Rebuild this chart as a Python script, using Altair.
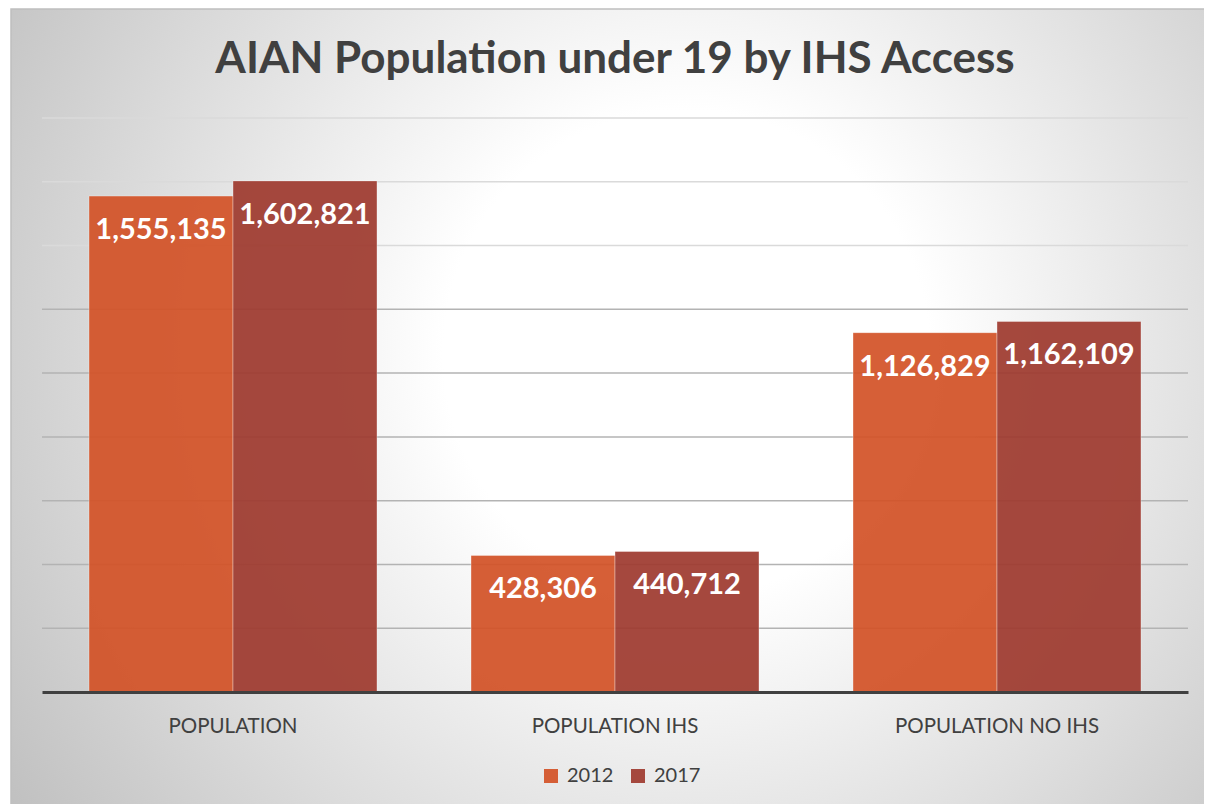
import altair as alt
import pandas as pd

categories = ["POPULATION", "POPULATION IHS", "POPULATION NO IHS"]
years = ["2012", "2017"]
values_2012 = [1555135, 428306, 1126829]
values_2017 = [1602821, 440712, 1162109]
grid_values = [200000, 400000, 600000, 800000, 1000000, 1200000, 1400000, 1600000, 1800000]
title_text = "AIAN Population under 19 by IHS Access"
colors = ["#D35328", "#9F3B30"]

rows = []
for c, a, b in zip(categories, values_2012, values_2017):
    rows.append({"category": c, "year": years[0], "value": a})
    rows.append({"category": c, "year": years[1], "value": b})
df = pd.DataFrame(rows)
grid_df = pd.DataFrame({"g": grid_values})

W, H = 1146, 574
FONT = "Lato"
y_scale = alt.Scale(domain=[0, 1800000], nice=False)

gradient = {
    "gradient": "radial",
    "x1": 0.56, "y1": 0.45, "r1": 0,
    "x2": 0.56, "y2": 0.45, "r2": 0.72,
    "stops": [
        {"offset": 0, "color": "#ffffff"},
        {"offset": 0.28, "color": "#ffffff"},
        {"offset": 1, "color": "#bababa"},
    ],
}

bg = alt.Chart(alt.Data(values=[{}])).mark_rect(
    fill=gradient, stroke="#bfbfbf", strokeWidth=1.5
).encode(
    x=alt.value(-31), x2=alt.value(1175),
    y=alt.value(-109), y2=alt.value(700),
)

title = alt.Chart(alt.Data(values=[{"t": title_text}])).mark_text(
    font=FONT, fontSize=44, fontWeight="bold", color="#404040",
    align="center", baseline="alphabetic",
).encode(
    x=alt.value(W / 2), y=alt.value(-45), text="t:N",
)

grid = alt.Chart(grid_df).mark_rule(strokeWidth=1.5).encode(
    y=alt.Y("g:Q", scale=y_scale, axis=None),
    color=alt.condition("datum.g >= 1300000", alt.value("#dadada"), alt.value("#b3b3b3")),
)

x_enc = alt.X(
    "category:N", sort=categories,
    scale=alt.Scale(paddingInner=0, paddingOuter=0),
    axis=alt.Axis(
        title=None, labelAngle=0, ticks=False, tickSize=0,
        domainColor="#404040", domainWidth=3, zindex=1,
        labelFont=FONT, labelFontSize=20.5, labelColor="#404040",
        labelBaseline="alphabetic", labelPadding=40, labelLimit=0,
    ),
)
xo_enc = alt.XOffset(
    "year:N", sort=years,
    scale=alt.Scale(paddingInner=0, paddingOuter=0.3264),
)

bars = alt.Chart(df).mark_bar(
    opacity=0.93, stroke="#ffffff", strokeOpacity=0.35, strokeWidth=1
).encode(
    x=x_enc, xOffset=xo_enc,
    y=alt.Y("value:Q", scale=y_scale, axis=None),
    color=alt.Color(
        "year:N", sort=years,
        scale=alt.Scale(domain=years, range=colors),
        legend=alt.Legend(
            title=None, orient="none", legendX=499, legendY=648,
            direction="horizontal", symbolType="square", symbolSize=196,
            symbolStrokeWidth=0, symbolOpacity=0.93, labelFont=FONT, labelFontSize=20,
            labelColor="#404040", columnPadding=14, labelOffset=6,
        ),
    ),
)

labels = alt.Chart(df).mark_text(
    dy=34, baseline="middle", align="center", font=FONT, fontWeight="bold",
    fontSize=29, color="white",
).encode(
    x=alt.X("category:N", sort=categories),
    xOffset=alt.XOffset("year:N", sort=years),
    y=alt.Y("value:Q", scale=y_scale),
    text=alt.Text("value:Q", format=","),
)

chart = alt.layer(bg, title, grid, bars, labels).properties(
    width=W, height=H,
    autosize=alt.AutoSizeParams(type="none"),
    padding={"left": 34, "top": 110, "right": 16, "bottom": 112},
).configure_view(stroke=None).configure(background="white")

chart.save("out.html", embed_options={"renderer": "svg", "actions": False})
